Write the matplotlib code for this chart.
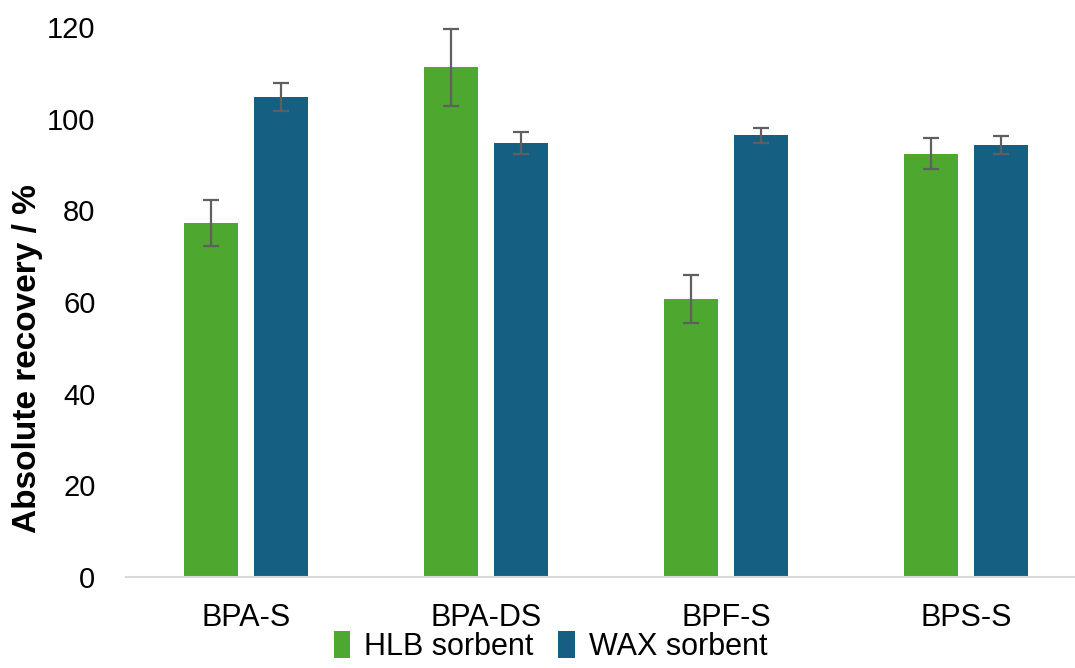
import numpy as np
import matplotlib
matplotlib.use("Agg")
import matplotlib.pyplot as plt

plt.rcParams["font.family"] = ["Liberation Sans", "DejaVu Sans"]

categories = ["BPA-S", "BPA-DS", "BPF-S", "BPS-S"]
hlb_values = [77.2, 111.2, 60.7, 92.4]
hlb_errors = [5.0, 8.4, 5.2, 3.3]
wax_values = [104.7, 94.8, 96.4, 94.2]
wax_errors = [3.0, 2.4, 1.6, 2.0]

GREEN = "#4EA72E"
BLUE = "#156082"
ERR = "#5f5f5f"

fig = plt.figure(figsize=(10.75, 6.68), dpi=100)
ax = fig.add_axes([126 / 1075, 91 / 668, 960 / 1075, 550 / 668])

x = np.arange(len(categories))
w = 0.225
off = 0.144
err_kw = dict(ecolor=ERR, elinewidth=1.6, capsize=6, capthick=1.6)

ax.bar(x - off, hlb_values, w, yerr=hlb_errors, color=GREEN,
       label="HLB sorbent", error_kw=err_kw, zorder=2)
ax.bar(x + off, wax_values, w, yerr=wax_errors, color=BLUE,
       label="WAX sorbent", error_kw=err_kw, zorder=2)

ax.set_xlim(-0.5, 3.5)
ax.set_ylim(0, 120)
ax.set_yticks(range(0, 121, 20))
ax.set_xticks(x)
ax.set_xticklabels(categories)
ax.tick_params(axis="both", length=0, labelsize=21, colors="black")
ax.tick_params(axis="x", labelsize=22, pad=19)
ax.tick_params(axis="y", pad=22)

for s in ["top", "right", "left"]:
    ax.spines[s].set_visible(False)
ax.spines["bottom"].set_color("#d9d9d9")
ax.spines["bottom"].set_linewidth(1.5)

ax.set_ylabel("Absolute recovery / %", fontsize=24, fontweight="bold")
ax.yaxis.set_label_coords(-0.086, 0.397)

fig.legend(loc="lower center", bbox_to_anchor=(0.512, -0.032), ncol=2,
           frameon=False, fontsize=22, handlelength=0.55, handleheight=1.0,
           handletextpad=0.45, columnspacing=0.8)

fig.savefig("out.png", dpi=100)
